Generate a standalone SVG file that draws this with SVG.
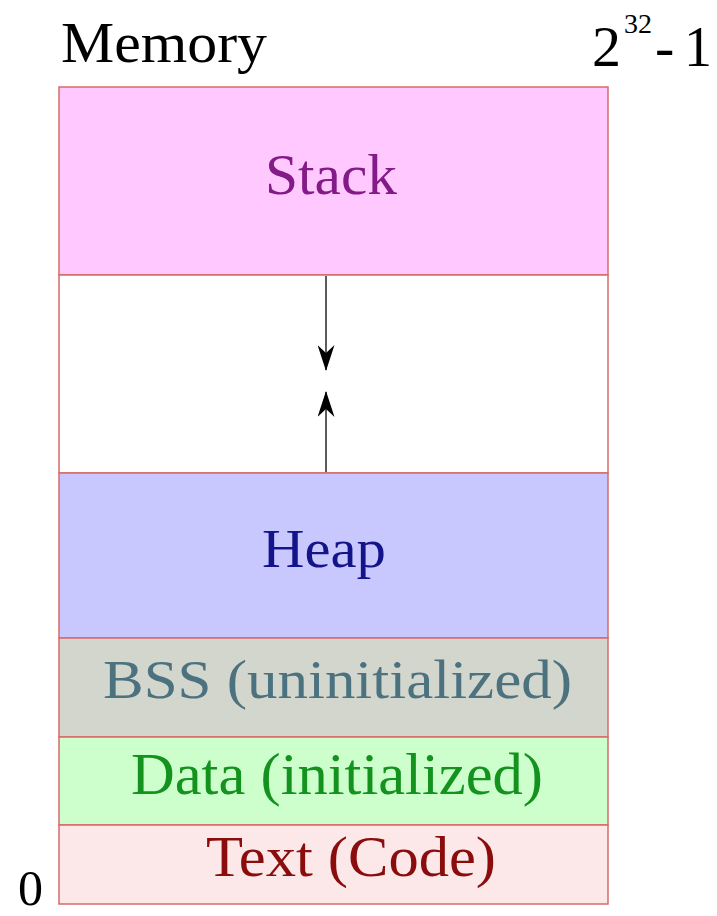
<svg xmlns="http://www.w3.org/2000/svg" width="717" height="916" viewBox="0 0 717 916">
<style>
text{font-family:"Liberation Serif","Times New Roman",serif;font-size:58px}
.seg{stroke:#d86a6a;stroke-width:1.5}
.conn{stroke:#333;stroke-width:1.6;fill:none;marker-end:url(#ah)}
</style>
<defs>
<marker id="ah" viewBox="0 0 26 17" refX="25" refY="8.5" markerWidth="26" markerHeight="17" markerUnits="userSpaceOnUse" orient="auto">
<path d="M0,0 L26,8.5 L0,17 L8,8.5 Z" fill="#000"/>
</marker>
</defs>
<rect width="717" height="916" fill="#fff"/>
<g id="labels">
<text x="61" y="62" textLength="206" lengthAdjust="spacingAndGlyphs" style="font-size:58px">Memory</text>
<text x="592" y="66" style="font-size:58px">2</text>
<text x="624" y="33" style="font-size:28px">32</text>
<text x="655" y="66" style="font-size:58px">-</text>
<text x="684" y="66" style="font-size:56px">1</text>
<text x="18" y="905" style="font-size:50px">0</text>
</g>
<g id="stack"><rect class="seg" x="59" y="87" width="549" height="188" fill="#ffc8ff"/><text x="265" y="194" textLength="132" lengthAdjust="spacingAndGlyphs" fill="#841a88">Stack</text></g>
<g id="gap"><rect class="seg" x="59" y="275" width="549" height="198" fill="#fff"/></g>
<g id="heap"><rect class="seg" x="59" y="473" width="549" height="165" fill="#c8c8ff"/><text x="262" y="567" textLength="124" lengthAdjust="spacingAndGlyphs" style="font-size:55px" fill="#14148a">Heap</text></g>
<g id="bss"><rect class="seg" x="59" y="638" width="549" height="99" fill="#d2d6cc"/><text x="103" y="698" textLength="469" lengthAdjust="spacingAndGlyphs" style="font-size:55px" fill="#4c7280">BSS (uninitialized)</text></g>
<g id="data"><rect class="seg" x="59" y="737" width="549" height="88" fill="#ccffcc"/><text x="131" y="794" textLength="412" lengthAdjust="spacingAndGlyphs" style="font-size:59px" fill="#14921e">Data (initialized)</text></g>
<g id="text"><rect class="seg" x="59" y="825" width="549" height="79" fill="#fce8e8"/><text x="206" y="876" textLength="290" lengthAdjust="spacingAndGlyphs" style="font-size:58px" fill="#8a0c0c">Text (Code)</text></g>
<g id="connectors">
<line class="conn" x1="326" y1="276" x2="326" y2="370"/>
<line class="conn" x1="326" y1="472" x2="326" y2="392"/>
</g>
</svg>
